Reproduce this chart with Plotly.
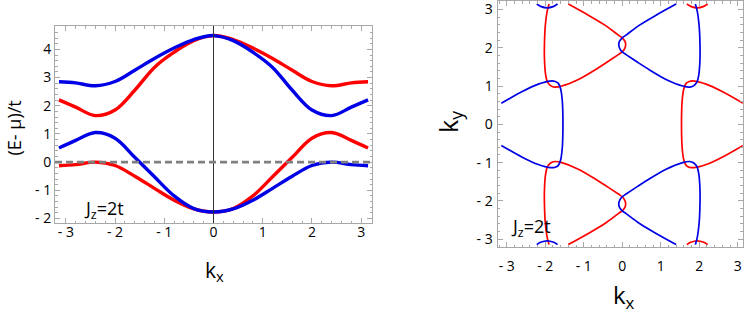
import plotly.graph_objects as go

# ---------------- Left panel: bands E(kx) ----------------
kx_band = [-3.14, -2.8, -2.4, -2.0, -1.6, -1.2, -0.8, -0.4, 0.0, 0.4, 0.8, 1.2, 1.6, 2.0, 2.4, 2.8, 3.14]
blue_upper = [2.85, 2.81, 2.71, 2.86, 3.26, 3.68, 4.05, 4.35, 4.49, 4.31, 3.90, 3.36, 2.55, 1.85, 1.65, 1.95, 2.21]
red_upper = [2.21, 1.95, 1.65, 1.85, 2.55, 3.36, 3.90, 4.31, 4.49, 4.35, 4.05, 3.68, 3.26, 2.86, 2.71, 2.81, 2.85]
blue_lower = [0.50, 0.77, 1.05, 0.85, 0.17, -0.52, -1.20, -1.65, -1.77, -1.66, -1.35, -0.93, -0.50, -0.12, 0.00, -0.09, -0.13]
red_lower = [-0.13, -0.09, 0.00, -0.12, -0.50, -0.93, -1.35, -1.66, -1.77, -1.65, -1.20, -0.52, 0.17, 0.85, 1.05, 0.77, 0.50]

# ---------------- Right panel: Fermi contours ----------------
red_tri_kx = [-1.40, -0.88, -0.45, -0.10, 0.00, 0.07, 0.09, 0.06, 0.00, -0.10, -0.40, -0.71, -1.14, -1.57, -1.75, -1.86, -1.94, -1.99, -2.02, -2.02, -2.00, -1.95, -1.90]
blue_tri_kx = [1.40, 0.88, 0.45, 0.10, 0.00, -0.07, -0.09, -0.06, 0.00, 0.10, 0.40, 0.71, 1.14, 1.57, 1.75, 1.86, 1.94, 1.99, 2.02, 2.02, 2.00, 1.95, 1.90]
tri_top_ky = [3.14, 2.85, 2.59, 2.33, 2.26, 2.17, 2.07, 1.97, 1.89, 1.82, 1.62, 1.42, 1.17, 1.00, 0.97, 1.01, 1.10, 1.30, 1.70, 2.10, 2.55, 2.95, 3.14]
tri_bot_ky = [-3.14, -2.85, -2.59, -2.33, -2.26, -2.17, -2.07, -1.97, -1.89, -1.82, -1.62, -1.42, -1.17, -1.00, -0.97, -1.01, -1.10, -1.30, -1.70, -2.10, -2.55, -2.95, -3.14]

blue_side_kx = [-3.14, -2.61, -2.18, -1.875, -1.74, -1.66, -1.60, -1.56, -1.545, -1.54, -1.545, -1.56, -1.60, -1.66, -1.74, -1.875, -2.18, -2.61, -3.14]
red_side_kx = [3.14, 2.61, 2.18, 1.875, 1.74, 1.66, 1.60, 1.56, 1.545, 1.54, 1.545, 1.56, 1.60, 1.66, 1.74, 1.875, 2.18, 2.61, 3.14]
side_ky = [0.55, 0.85, 1.05, 1.13, 1.12, 1.07, 0.93, 0.65, 0.37, 0.00, -0.37, -0.65, -0.93, -1.07, -1.12, -1.13, -1.05, -0.85, -0.55]

blue_small_kx = [-2.22, -2.12, -1.95, -1.78, -1.68]
red_small_kx = [1.68, 1.78, 1.95, 2.12, 2.22]
small_top_ky = [3.14, 3.08, 3.04, 3.08, 3.14]
small_bot_ky = [-3.14, -3.08, -3.04, -3.08, -3.14]

tick_vals = [-3, -2, -1, 0, 1, 2, 3]
tick_text = ["- 3", "- 2", "- 1", "0", "1", "2", "3"]
e_tick_vals = [-2, -1, 0, 1, 2, 3, 4]
e_tick_text = ["- 2", "- 1", "0", "1", "2", "3", "4"]

RED = "rgb(255,0,0)"
BLUE = "rgb(0,0,230)"
FONT = "Open Sans"
W, H = 747, 314

fig = go.Figure()

# bands
for ys, col in [(red_upper, RED), (red_lower, RED), (blue_upper, BLUE), (blue_lower, BLUE)]:
    fig.add_trace(go.Scatter(x=kx_band, y=ys, mode="lines", xaxis="x", yaxis="y",
                             line=dict(color=col, width=3.4, shape="spline", smoothing=1.0),
                             hoverinfo="skip", showlegend=False))

# contours
cont = [
    (red_tri_kx, tri_top_ky, RED), (red_tri_kx, tri_bot_ky, RED),
    (red_side_kx, side_ky, RED),
    (red_small_kx, small_top_ky, RED), (red_small_kx, small_bot_ky, RED),
    (blue_tri_kx, tri_top_ky, BLUE), (blue_tri_kx, tri_bot_ky, BLUE),
    (blue_side_kx, side_ky, BLUE),
    (blue_small_kx, small_top_ky, BLUE), (blue_small_kx, small_bot_ky, BLUE),
]
for xs, ys, col in cont:
    fig.add_trace(go.Scatter(x=xs, y=ys, mode="lines", xaxis="x2", yaxis="y2",
                             line=dict(color=col, width=1.7, shape="spline", smoothing=0.8),
                             hoverinfo="skip", showlegend=False))

FRAME = "#a8a8a8"
def ax(domain, rng, tv, tt, standoff, anchor):
    return dict(domain=domain, range=rng, tickvals=tv, ticktext=tt, ticks="inside",
                ticklen=5, tickwidth=1, tickcolor=FRAME, showline=True, linecolor=FRAME,
                linewidth=1, mirror="allticks", showgrid=False, zeroline=False,
                minor=dict(dtick=0.2, ticks="inside", ticklen=2.5, tickcolor=FRAME, showgrid=False),
                tickfont=dict(family=FONT, size=14, color="black"),
                ticklabelstandoff=standoff, ticklabeloverflow="allow",
                anchor=anchor, fixedrange=True, automargin=False)

fig.update_layout(
    width=W, height=H, margin=dict(l=0, r=0, t=0, b=0),
    paper_bgcolor="white", plot_bgcolor="white",
    xaxis=ax([55 / W, 372 / W], [-3.22, 3.22], tick_vals, tick_text, -4, "y"),
    yaxis=ax([1 - 223 / H, 1 - 26 / H], [-2.16, 4.83], e_tick_vals, e_tick_text, 0, "x"),
    xaxis2=ax([497.5 / W, 742.7 / W], [-3.24, 3.13], tick_vals, tick_text, 6, "y2"),
    yaxis2=ax([1 - 247.3 / H, 1 - 1 / H], [-3.21, 3.22], tick_vals, tick_text, 1, "x2"),
    shapes=[
        dict(type="line", xref="x", yref="y domain", x0=0, x1=0, y0=0, y1=1,
             line=dict(color="#333333", width=1)),
        dict(type="line", xref="x domain", yref="y", x0=0, x1=1, y0=0, y1=0,
             line=dict(color="#808080", width=2.6, dash="7px,4px")),
    ],
)

def ann(text, px, py, size, angle=0):
    return dict(text=text, x=px / W, y=1 - py / H, xref="paper", yref="paper",
                xanchor="center", yanchor="middle", showarrow=False, textangle=angle,
                font=dict(family=FONT, size=size, color="black"))

fig.update_layout(annotations=[
    ann("(E- μ)/t", 13.5, 128, 18, -90),
    ann("k<sub>x</sub>", 214, 271, 21),
    ann("J<sub>z</sub>=2t", 104, 209, 18),
    ann("k<sub>y</sub>", 449, 122, 25, -90),
    ann("k<sub>x</sub>", 624, 296, 24),
    ann("J<sub>z</sub>=2t", 531, 228, 18),
])

fig.write_html("out.html", config={"displayModeBar": False},
               post_script="document.body.style.margin='0';document.body.style.padding='0';")
